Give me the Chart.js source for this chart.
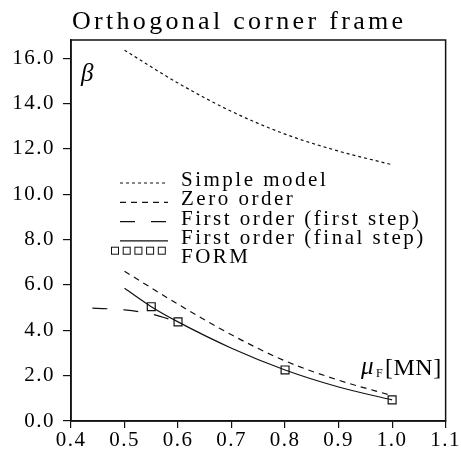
<!DOCTYPE html>
<html>
<head>
<meta charset="utf-8">
<script src="https://cdn.jsdelivr.net/npm/chart.js@4.4.0/dist/chart.umd.min.js"></script>
<style>
  html, body { margin: 0; padding: 0; background: #fff; }
  #wrap { width: 461px; height: 450px; }
</style>
</head>
<body>
<div id="wrap"><canvas id="betaChart"></canvas></div>
<script>
// Valores del gráfico
const titulo = 'Orthogonal corner frame';
const xTicks = [0.4, 0.5, 0.6, 0.7, 0.8, 0.9, 1.0, 1.1];
const yTicks = [0, 2, 4, 6, 8, 10, 12, 14, 16];

const simpleX = [0.5, 0.6, 0.7, 0.8, 0.9, 1.0];
const simpleBeta = [16.35, 14.9, 13.65, 12.65, 11.9, 11.3];

const zeroX = [0.5, 0.6, 0.7, 0.8, 0.9, 1.0];
const zeroBeta = [6.6, 5.15, 3.8, 2.65, 1.8, 1.12];

const firstStepX = [0.44, 0.5, 0.55, 0.6];
const firstStepBeta = [4.98, 4.9, 4.72, 4.37];

const finalStepX = [0.5, 0.55, 0.6, 0.7, 0.8, 0.9, 1.0];
const finalStepBeta = [5.85, 5.04, 4.37, 3.21, 2.25, 1.5, 0.93];

const formX = [0.55, 0.6, 0.8, 1.0];
const formBeta = [5.04, 4.37, 2.25, 0.93];

const etiquetas = [
  'Simple model',
  'Zero order',
  'First order (first step)',
  'First order (final step)',
  'FORM'
];

const SERIF = '"Liberation Serif", "DejaVu Serif", serif';

function puntos(xs, ys) {
  return xs.map((x, i) => ({ x, y: ys[i] }));
}

function serie(label, xs, ys, dash, extra) {
  return Object.assign({
    label,
    data: puntos(xs, ys),
    borderColor: '#111',
    backgroundColor: 'transparent',
    borderWidth: 1.2,
    borderDash: dash,
    pointRadius: 0,
    cubicInterpolationMode: 'monotone',
    fill: false
  }, extra || {});
}

// Leyenda, título y símbolos de los ejes dibujados a mano
const decoraciones = {
  id: 'decoraciones',
  beforeLayout(chart) {
    chart.ctx.letterSpacing = '1.5px';
  },
  beforeDraw(chart) {
    chart.ctx.letterSpacing = '1.5px';
  },
  afterDraw(chart) {
    const ctx = chart.ctx;
    const area = chart.chartArea;
    ctx.save();

    // marco completo
    ctx.strokeStyle = '#111';
    ctx.lineWidth = 1.5;
    ctx.setLineDash([]);
    ctx.strokeRect(area.left, area.top, area.right - area.left, area.bottom - area.top);

    ctx.fillStyle = '#000';
    ctx.textAlign = 'left';
    ctx.textBaseline = 'alphabetic';

    // título
    ctx.font = '26px ' + SERIF;
    ctx.letterSpacing = '3.3px';
    ctx.fillText(titulo, 72, 29);

    // β
    ctx.letterSpacing = '0px';
    ctx.font = 'italic 25px ' + SERIF;
    ctx.fillText('β', 81, 81);

    // μF[MN]
    ctx.font = 'italic 25px ' + SERIF;
    ctx.fillText('μ', 361, 374);
    ctx.font = '12px ' + SERIF;
    ctx.fillText('F', 376, 377);
    ctx.font = '24px ' + SERIF;
    ctx.letterSpacing = '0.5px';
    ctx.fillText('[MN]', 385, 375);

    // leyenda
    const x0 = 120, x1 = 168, xt = 181;
    ctx.font = '21px ' + SERIF;
    ctx.letterSpacing = '2.5px';
    chart.data.datasets.forEach((ds, i) => {
      const base = 186 + i * 19.3;
      if (ds.showLine === false) {
        ctx.setLineDash([]);
        ctx.lineWidth = 1;
        for (let k = 0; k < 5; k++) {
          const cx = 115 + k * 11.7;
          ctx.strokeRect(cx - 3.5, base - 16, 7, 7);
        }
      } else {
        ctx.setLineDash(ds.borderDash || []);
        ctx.lineWidth = ds.borderWidth;
        ctx.beginPath();
        ctx.moveTo(x0, base - 3);
        ctx.lineTo(x1, base - 3);
        ctx.stroke();
      }
      ctx.setLineDash([]);
      ctx.fillText(ds.label, xt, base);
    });

    ctx.restore();
  }
};

const ctx = document.getElementById('betaChart').getContext('2d');
new Chart(ctx, {
  type: 'line',
  data: {
    datasets: [
      serie(etiquetas[0], simpleX, simpleBeta, [3, 3]),
      serie(etiquetas[1], zeroX, zeroBeta, [6, 5]),
      serie(etiquetas[2], firstStepX, firstStepBeta, [15, 16]),
      serie(etiquetas[3], finalStepX, finalStepBeta, []),
      serie(etiquetas[4], formX, formBeta, [], {
        showLine: false,
        pointStyle: 'rect',
        pointRadius: 5.6,
        pointBorderWidth: 1.2,
        pointBorderColor: '#111',
        pointBackgroundColor: 'transparent'
      })
    ]
  },
  options: {
    responsive: true,
    maintainAspectRatio: false,
    animation: false,
    layout: { padding: { top: 40, right: 9, left: 0, bottom: 0 } },
    plugins: {
      legend: { display: false },
      title: { display: false },
      tooltip: { enabled: false }
    },
    scales: {
      x: {
        type: 'linear',
        min: 0.4,
        max: 1.1,
        afterBuildTicks: s => { s.ticks = xTicks.map(v => ({ value: v })); },
        afterFit: s => { s.height = 29; },
        ticks: {
          color: '#000',
          padding: 0,
          maxRotation: 0,
          font: { family: SERIF, size: 21 },
          callback: v => Number(v).toFixed(1)
        },
        grid: { drawOnChartArea: false, drawTicks: true, tickLength: 7, color: '#111', lineWidth: 1.2 },
        border: { display: true, color: '#111', width: 1.5 }
      },
      y: {
        type: 'linear',
        min: 0,
        max: 16.8,
        afterBuildTicks: s => { s.ticks = yTicks.map(v => ({ value: v })); },
        afterFit: s => { s.width = 71; },
        ticks: {
          color: '#000',
          padding: 8,
          font: { family: SERIF, size: 21 },
          callback: v => Number(v).toFixed(1)
        },
        grid: { drawOnChartArea: false, drawTicks: true, tickLength: 8, color: '#111', lineWidth: 1.2 },
        border: { display: true, color: '#111', width: 1.5 }
      }
    }
  },
  plugins: [decoraciones]
});
</script>
</body>
</html>
